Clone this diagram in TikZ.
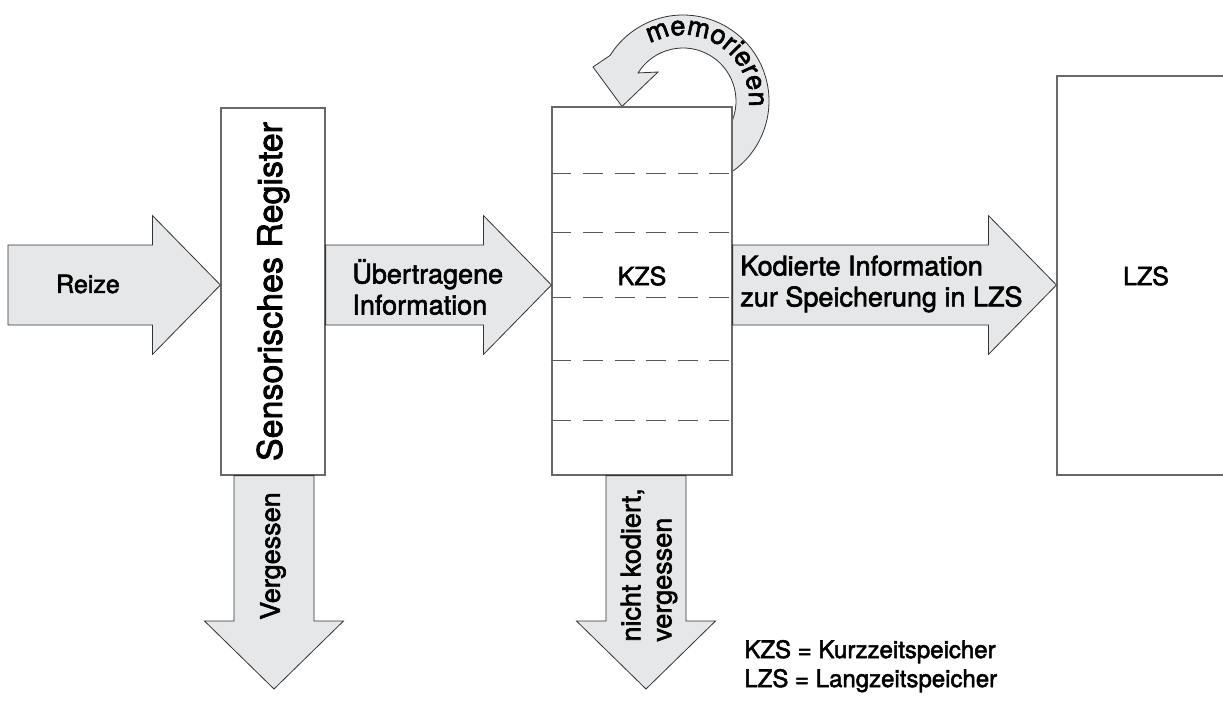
\documentclass[tikz,border=0pt]{standalone}
\usepackage{fontspec}
\setmainfont{TeX Gyre Heros}[FakeBold=2.2]
\usetikzlibrary{calc,backgrounds,decorations.text}

\definecolor{arrowfill}{RGB}{230,231,232}
\definecolor{boxline}{RGB}{105,105,105}

\newcommand{\memofont}{\fontsize{13.5}{15}\selectfont}

\tikzstyle{store}=[shape=rectangle,draw=boxline,fill=white,line width=0.6pt,inner sep=0pt]
\tikzstyle{storetext}=[inner sep=0pt,font=\fontsize{12.5}{15}\selectfont]
\tikzstyle{slot}=[draw=black!65,line width=0.5pt,dash pattern=on 10pt off 5.8pt]
\tikzstyle{blockarrow}=[draw=black!80,fill=arrowfill,line width=0.4pt]
\tikzstyle{hblock}=[blockarrow,to path={($(\tikztostart)+(0,-40)$) -- ($(\tikztotarget)+(-68,-40)$) -- ($(\tikztotarget)+(-68,-69.5)$) -- (\tikztotarget) -- ($(\tikztotarget)+(-68,69.5)$) -- ($(\tikztotarget)+(-68,40)$) -- ($(\tikztostart)+(0,40)$) -- cycle}]
\tikzstyle{vblock}=[blockarrow,to path={($(\tikztostart)+(-40,0)$) -- ($(\tikztotarget)+(-40,-68)$) -- ($(\tikztotarget)+(-69.5,-68)$) -- (\tikztotarget) -- ($(\tikztotarget)+(69.5,-68)$) -- ($(\tikztotarget)+(40,-68)$) -- ($(\tikztostart)+(40,0)$) -- cycle}]
\tikzstyle{arrowtext}=[inner sep=0pt,align=left,font=\fontsize{13.5}{15.5}\selectfont]
\tikzstyle{legend}=[inner sep=0pt,anchor=base west,font=\fontsize{12}{15}\selectfont]

\begin{document}
\begin{tikzpicture}[x=0.5pt,y=-0.5pt]
\useasboundingbox (0,0) rectangle (1223,719);
\clip (0,0) rectangle (1223,719);
% stores
\node[store,minimum width=52pt,minimum height=183.5pt,font=\fontsize{17}{20}\selectfont] (sr) at (273,291.5)
    {\rotatebox{90}{Sensorisches Register}};
\node[store,minimum width=90pt,minimum height=184pt] (kzs) at (642,291) {};
\node[store,minimum width=89pt,minimum height=199.5pt] (lzs) at (1146,275.5) {};
\node[storetext] (kzslbl) at (642,276) {KZS};
\node[storetext] (lzslbl) at (1146,276) {LZS};
% slots in KZS
\foreach \y in {173,232,297,360,420}
    \draw[slot] (kzs.west |- 0,\y) -- (kzs.east |- 0,\y);

% memorieren loop
\begin{scope}[on background layer]
\coordinate (mc) at (683,101);
\coordinate (mtip) at (kzs.north -| 622,0);
\draw[blockarrow] ($(mc)+(60:86)$) arc[start angle=60,end angle=-148,radius=86]
    -- (593,67) -- (mtip) -- (658,72) -- ($(mc)+(-148:53)$)
    arc[start angle=-148,end angle=60,radius=53] -- cycle;
\path[decorate,decoration={text along path,text={|\memofont|memorieren},text align=center}]
    ($(mc)+(-127.5:66)$) arc[start angle=-127.5,end angle=12.5,radius=66];
\end{scope}

% horizontal arrows
\coordinate (rin) at (8,285);
\coordinate (rout) at (sr.west |- rin);
\coordinate (uin) at (sr.east |- rin);
\coordinate (uout) at (kzs.west |- rin);
\coordinate (kin) at (kzs.east |- rin);
\coordinate (kout) at (lzs.west |- rin);
\draw[hblock] (rin) to (rout);
\draw[hblock] (uin) to (uout);
\draw[hblock] (kin) to (kout);
% vertical arrows
\coordinate (vout) at (274,689);
\coordinate (vin) at (sr.south -| vout);
\coordinate (nout) at (646,689);
\coordinate (nin) at (kzs.south -| nout);
\draw[vblock] (vin) to (vout);
\draw[vblock] (nin) to (nout);

% arrow texts
\node[arrowtext,font=\fontsize{12.5}{15}\selectfont] (reize) at (88,284) {Reize};
\node[arrowtext,anchor=west] (uebertr) at (352,287) {Übertragene\\Information};
\node[arrowtext,anchor=west] (kodiert) at (740,284) {Kodierte Information\\zur Speicherung in LZS};
\node[arrowtext,rotate=90] (verg) at (273,556) {Vergessen};
\node[arrowtext,rotate=90,anchor=west] (nichtkod) at (649,642) {nicht kodiert,\\vergessen};

% legend
\node[legend] (kzsdef) at (744,658) {KZS = Kurzzeitspeicher};
\node[legend] (lzsdef) at (744,687) {LZS = Langzeitspeicher};
\end{tikzpicture}
\end{document}
